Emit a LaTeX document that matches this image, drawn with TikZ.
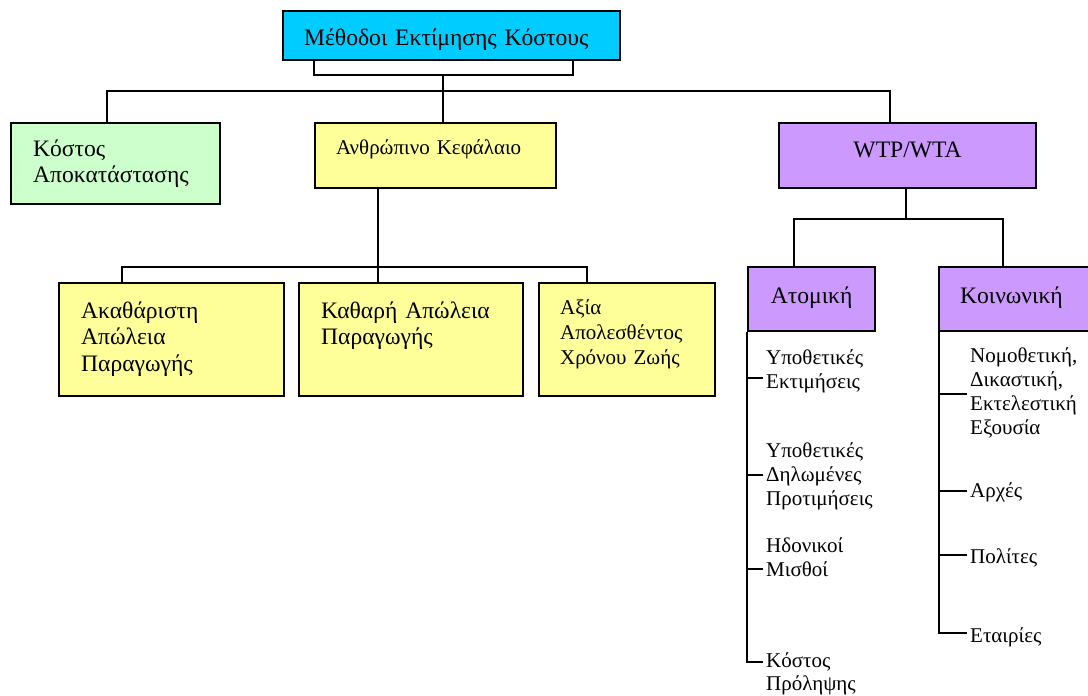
\documentclass[tikz,border=0pt]{standalone}
\usepackage{fontspec}
\setmainfont{Liberation Serif}
\usetikzlibrary{calc}
\definecolor{cyanbox}{HTML}{00CCFF}
\definecolor{greenbox}{HTML}{CCFFCC}
\definecolor{yellowbox}{HTML}{FFFF99}
\definecolor{purplebox}{HTML}{CC99FF}
\hyphenpenalty=10000
\begin{document}
\begin{tikzpicture}[x=1pt,y=-1pt,
  box/.style={draw, line width=2.2pt, anchor=north west, inner ysep=0pt},
  big/.style={font=\fontsize{23.6pt}{26.5pt}\selectfont},
  mid/.style={font=\fontsize{21pt}{25pt}\selectfont},
  leaf/.style={inner sep=0pt, anchor=base west, text width=125pt, align=left, font=\fontsize{21pt}{24pt}\selectfont},
  conn/.style={line width=1.6pt},
]
\useasboundingbox (0,0) rectangle (1088,696);
\fill[white] (0,0) rectangle (1088,696);

% boxes
\node[box, big, fill=cyanbox, inner xsep=21pt, text width=295pt, align=left, text height=34pt, text depth=15pt] (top) at (282,10) {Μέθοδοι~Εκτίμησης~Κόστους};
\node[box, big, fill=greenbox, inner xsep=22pt, text width=165pt, align=left, text height=33pt, text depth=48pt] (cost) at (10,122) {Κόστος\\Αποκατάστασης};
\node[box, mid, fill=yellowbox, inner xsep=21pt, text width=199pt, align=left, text height=31pt, text depth=34pt] (human) at (314,122) {Ανθρώπινο~Κεφάλαιο};
\node[box, big, fill=purplebox, inner xsep=0pt, text width=257pt, align=center, text height=34pt, text depth=31pt] (wtp) at (778,122) {WTP/WTA};
\node[box, big, fill=yellowbox, inner xsep=22pt, text width=181pt, align=left, text height=35pt, text depth=78pt] (gross) at (58,282) {Ακαθάριστη\\Απώλεια\\Παραγωγής};
\node[box, big, fill=yellowbox, inner xsep=22pt, text width=180pt, align=left, text height=35pt, text depth=78pt] (net) at (298,282) {Καθαρή~Απώλεια\\Παραγωγής};
\node[box, mid, fill=yellowbox, inner xsep=21pt, text width=134pt, align=left, text height=31pt, text depth=82pt] (life) at (538,282) {Αξία\\Απολεσθέντος\\Χρόνου~Ζωής};
\node[box, big, fill=purplebox, inner xsep=0pt, text width=127pt, align=center, text height=36pt, text depth=28pt] (atom) at (747,266) {Ατομική};
\node[box, big, fill=purplebox, inner xsep=21pt, text width=110pt, align=left, text height=36pt, text depth=28pt] (soc) at (938,266) {Κοινωνική};

% leaves
\node[leaf] (a1) at (766,364) {Υποθετικές\\Εκτιμήσεις};
\node[leaf] (a2) at (766,457) {Υποθετικές\\Δηλωμένες\\Προτιμήσεις};
\node[leaf] (a3) at (766,552) {Ηδονικοί\\Μισθοί};
\node[leaf, font=\fontsize{21pt}{23pt}\selectfont] (a4) at (766,667) {Κόστος\\Πρόληψης};
\node[leaf] (s1) at (970,362) {Νομοθετική,\\Δικαστική,\\Εκτελεστική\\Εξουσία};
\node[leaf] (s2) at (970,497) {Αρχές};
\node[leaf] (s3) at (970,563) {Πολίτες};
\node[leaf] (s4) at (970,642) {Εταιρίες};

% junctions
\coordinate (j0) at (443,75);
\coordinate (j1) at (443,91);
\coordinate (j2) at (378,267);
\coordinate (j3) at (906,219);

% top bracket and first level
\draw[conn] ($(top.south west)+(32,0)$) |- (j0) -| ($(top.south east)+(-48,0)$);
\draw[conn] (j0) -- (j1);
\draw[conn] ($(cost.north west)+(97,0)$) |- (j1) -| ($(wtp.north west)+(112,0)$);
\draw[conn] (j1) -- (j1 |- human.north);

% human capital
\draw[conn] (human.south -| j2) -- (j2);
\draw[conn] ($(gross.north west)+(64,0)$) |- (j2) -| ($(life.north west)+(49,0)$);
\draw[conn] (j2) -- (j2 |- net.north);

% WTP/WTA
\draw[conn] (wtp.south -| j3) -- (j3);
\draw[conn] ($(atom.north west)+(47,0)$) |- (j3) -| ($(soc.north west)+(65,0)$);

% atomic tree
\coordinate (ta1) at ($(a1.base west)+(-3,14)$);
\coordinate (ta2) at ($(a2.base west)+(-3,18)$);
\coordinate (ta3) at ($(a3.base west)+(-3,17)$);
\coordinate (ta4) at ($(a4.base west)+(-3,-5)$);
\draw[conn] (atom.south west) |- (ta4);
\draw[conn] (ta1 -| atom.south west) -- (ta1);
\draw[conn] (ta2 -| atom.south west) -- (ta2);
\draw[conn] (ta3 -| atom.south west) -- (ta3);

% social tree
\coordinate (ts1) at ($(s1.base west)+(-3,32)$);
\coordinate (ts2) at ($(s2.base west)+(-3,-6)$);
\coordinate (ts3) at ($(s3.base west)+(-3,-8)$);
\coordinate (ts4) at ($(s4.base west)+(-3,-9)$);
\draw[conn] ($(soc.south west)+(1,0)$) |- (ts4);
\draw[conn] (ts1 -| soc.south west) ++(1,0) -- (ts1);
\draw[conn] (ts2 -| soc.south west) ++(1,0) -- (ts2);
\draw[conn] (ts3 -| soc.south west) ++(1,0) -- (ts3);
\end{tikzpicture}
\end{document}
